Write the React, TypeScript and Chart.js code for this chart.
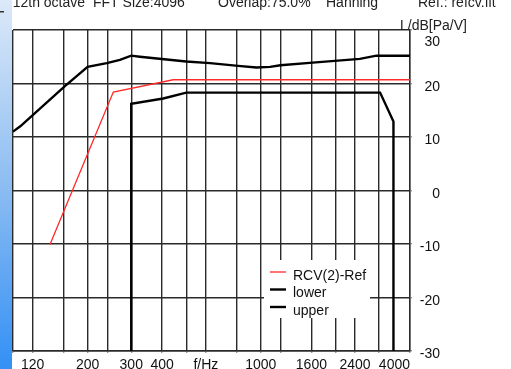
import React, { useEffect, useRef } from 'react';
import { Chart, registerables } from 'chart.js';

Chart.register(...registerables);

// ---- axis definitions ----
const X_MIN = 100;
const X_MAX = 4000;
const xGridValues = [100, 120, 160, 200, 240, 300, 400, 500, 600, 800, 1000, 1200, 1600, 2000, 2400, 3000, 4000];
const xLabelMap: Record<number, string> = {
  120: '120', 200: '200', 300: '300', 400: '400', 600: 'f/Hz',
  1000: '1000', 1600: '1600', 2400: '2400', 4000: '4000',
};
const yTickValues = [-30, -20, -10, 0, 10, 20, 30];

// ---- series ----
const refLabel = 'RCV(2)-Ref';
const refFreq = [141, 254, 443, 4000];
const refDb = [-10.1, 18.4, 20.7, 20.7];

const lowerLabel = 'lower';
const lowerFreq = [300, 300, 404, 500, 3030, 3430, 3430];
const lowerDb = [-40, 16.2, 17.2, 18.3, 18.3, 12.9, -40];

const upperLabel = 'upper';
const upperFreq = [100, 107, 162, 200, 239, 270, 300, 325, 500, 624, 810, 960, 1090, 1200, 1620, 2510, 2930, 4000];
const upperDb = [11.0, 12.0, 19.5, 23.1, 23.8, 24.4, 25.2, 25.0, 24.1, 23.8, 23.3, 23.0, 23.1, 23.4, 23.9, 24.6, 25.2, 25.2];

const headerParts: [string, number][] = [
  ['1/12th octave', 1],
  ['FFT Size:4096', 93],
  ['Overlap:75.0%', 218],
  ['Hanning', 326],
  ['Ref.: refcv.flt', 418],
];
const yTitle = 'L/dB[Pa/V]';

const FONT = "'Liberation Sans', Arial, sans-serif";

const toPts = (xs: number[], ys: number[]) => xs.map((x, i) => ({ x, y: ys[i] }));

const decorPlugin = {
  id: 'decor',
  beforeDraw(chart: any) {
    const { ctx, width, height } = chart;
    ctx.save();
    ctx.fillStyle = '#ffffff';
    ctx.fillRect(0, 0, width, height);
    ctx.restore();
  },
  afterDraw(chart: any) {
    const { ctx, height } = chart;
    ctx.save();
    // header text (top clipped)
    ctx.fillStyle = '#222';
    ctx.font = `14px ${FONT}`;
    ctx.textBaseline = 'alphabetic';
    ctx.textAlign = 'left';
    headerParts.forEach(([t, x]) => ctx.fillText(t, x, 7));
    // y title
    ctx.fillText(yTitle, 400, 30);

    // legend
    const lx = 264, ly = 260, lw = 106, lh = 58;
    ctx.fillStyle = '#ffffff';
    ctx.fillRect(lx, ly, lw, lh);
    chart.data.datasets.forEach((ds: any, i: number) => {
      const y = 272 + i * 17.5;
      ctx.strokeStyle = ds.borderColor;
      ctx.lineWidth = ds.borderWidth;
      ctx.beginPath();
      ctx.moveTo(270, y);
      ctx.lineTo(286, y);
      ctx.stroke();
      ctx.fillStyle = '#111';
      ctx.fillText(ds.label, 293, y + 7.5);
    });

    // left blue strip
    const g = ctx.createLinearGradient(0, 0, 0, height);
    g.addColorStop(0, '#dce9f8');
    g.addColorStop(0.5, '#8dbdf2');
    g.addColorStop(1, '#3390f5');
    ctx.fillStyle = g;
    ctx.fillRect(0, 0, 12, height);
    ctx.fillStyle = '#333';
    ctx.fillRect(0, 11, 4, 1.5);
    ctx.restore();
  },
};

export default function App() {
  const ref = useRef<HTMLCanvasElement>(null);
  useEffect(() => {
    document.body.style.margin = '0';
    const chart = new Chart(ref.current as HTMLCanvasElement, {
      type: 'line',
      data: {
        datasets: [
          { label: refLabel, data: toPts(refFreq, refDb), borderColor: '#ff2a2a', borderWidth: 1.3 },
          { label: lowerLabel, data: toPts(lowerFreq, lowerDb), borderColor: '#000000', borderWidth: 2.4 },
          { label: upperLabel, data: toPts(upperFreq, upperDb), borderColor: '#000000', borderWidth: 2.4 },
        ],
      },
      options: {
        animation: false,
        responsive: false,
        maintainAspectRatio: false,
        devicePixelRatio: 1,
        parsing: true,
        layout: { padding: { left: 13, top: 30, right: 71, bottom: 0 } },
        elements: { point: { radius: 0 }, line: { tension: 0 } },
        plugins: { legend: { display: false }, tooltip: { enabled: false }, title: { display: false } },
        scales: {
          x: {
            type: 'logarithmic',
            position: 'bottom',
            min: X_MIN,
            max: X_MAX,
            afterBuildTicks: (s: any) => { s.ticks = xGridValues.map((v) => ({ value: v })); },
            afterFit: (s: any) => { s.height = 18; },
            ticks: {
              autoSkip: false,
              maxRotation: 0,
              minRotation: 0,
              align: 'inner',
              padding: 4,
              color: '#111',
              font: { family: FONT, size: 14 },
              callback: (v: any) => xLabelMap[Number(v)] ?? '',
            },
            grid: { color: '#2a2a2a', lineWidth: 1.4, tickLength: 2, tickColor: '#999' },
            border: { display: true, color: '#2a2a2a', width: 1.4 },
          },
          y: {
            type: 'linear',
            position: 'right',
            min: -30,
            max: 30,
            afterBuildTicks: (s: any) => { s.ticks = yTickValues.map((v) => ({ value: v })); },
            afterFit: (s: any) => { s.width = 30; },
            ticks: {
              crossAlign: 'far',
              padding: 8,
              labelOffset: 3.5,
              color: '#111',
              font: { family: FONT, size: 14 },
              callback: (v: any) => (Number(v) === 30 ? ['', '30'] : String(v)),
            },
            grid: { color: '#2a2a2a', lineWidth: 1.4, tickLength: 2, tickColor: '#999' },
            border: { display: true, color: '#2a2a2a', width: 1.4 },
          },
        },
      } as any,
      plugins: [decorPlugin],
    });
    return () => chart.destroy();
  }, []);
  return (
    <div style={{ width: 511, height: 369, position: 'relative', overflow: 'hidden' }}>
      <canvas ref={ref} width={511} height={369} style={{ display: 'block' }} />
    </div>
  );
}
